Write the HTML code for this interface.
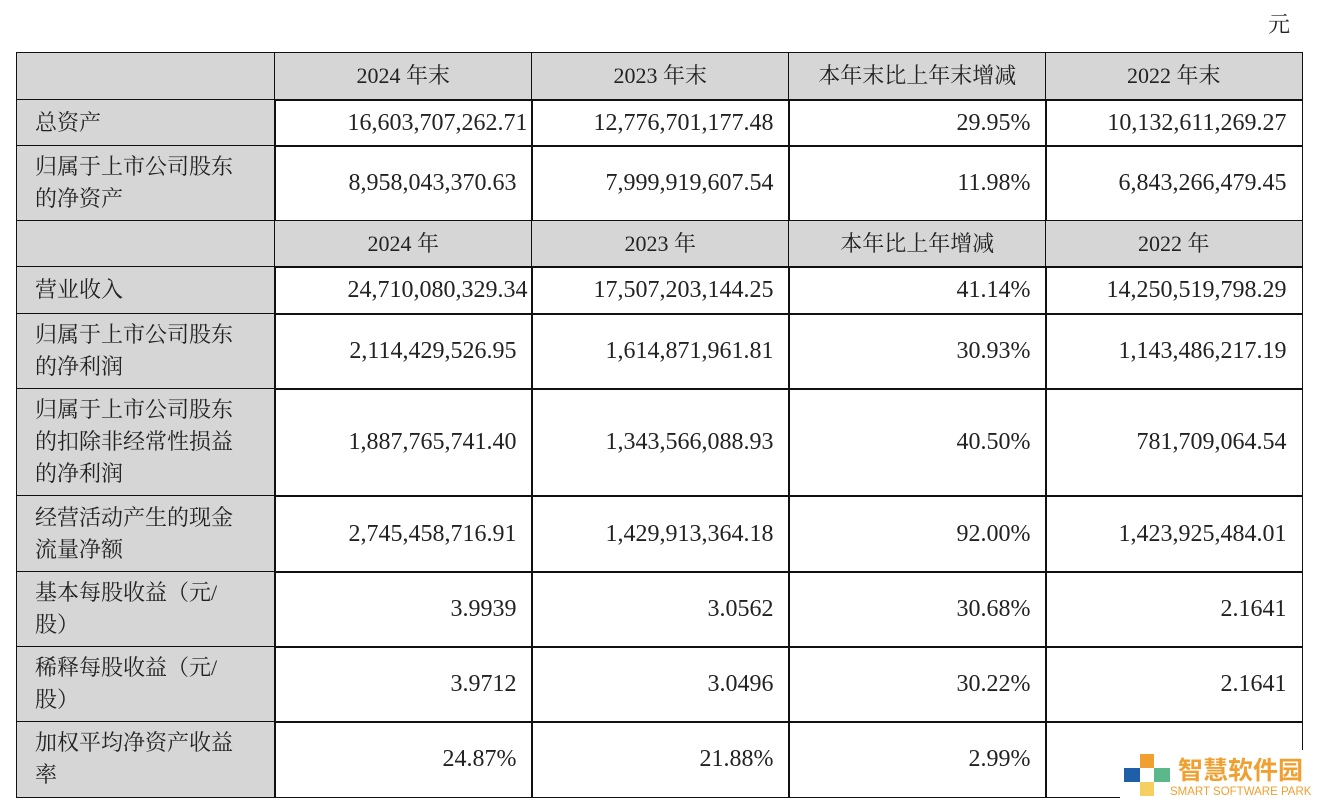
<!DOCTYPE html>
<html><head><meta charset="utf-8">
<style>
body{margin:0;width:1318px;height:804px;background:#fff;overflow:hidden;position:relative;font-family:"Liberation Serif","Noto Serif CJK SC",serif;color:#222;}
.c{position:absolute;box-sizing:border-box;border:1.5px solid #111;display:flex;align-items:center;font-size:22px;line-height:32px;}
.g{background:#d6d6d6;}
.h{justify-content:center;}
.n{justify-content:flex-end;padding-right:15px;font-size:24px;}
.l{padding-left:18px;}
</style></head><body>
<div style="position:absolute;left:1268px;top:8px;font-size:22px;">元</div>
<div id="t"></div>
<div style="position:absolute;left:1120px;top:750px;width:198px;height:54px;background:#fff;">
  <div style="position:absolute;left:20px;top:4px;width:14px;height:14px;background:#f0a030"></div>
  <div style="position:absolute;left:4px;top:18px;width:16px;height:14px;background:#1f5fa8"></div>
  <div style="position:absolute;left:34px;top:18px;width:16px;height:14px;background:#5cb88a"></div>
  <div style="position:absolute;left:20px;top:32px;width:14px;height:14px;background:#f5d060"></div>
  <div style="position:absolute;left:58px;top:4px;font-family:'Noto Sans CJK SC',sans-serif;font-weight:bold;font-size:25px;line-height:30px;color:#f0a030;white-space:nowrap;">智慧软件园</div>
  <div style="position:absolute;left:50px;top:36px;font-family:'Liberation Sans',sans-serif;font-size:11.5px;line-height:12px;color:#f0a030;white-space:nowrap;">SMART SOFTWARE PARK</div>
</div>
<script>
const xs=[16,274,531,788,1045,1301];
const ys=[52,99,145,220,266,313,388,495,571,646,721,796];
const rows=[
 [null,'2024 年末','2023 年末','本年末比上年末增减','2022 年末'],
 ['总资产','16,603,707,262.71','12,776,701,177.48','29.95%','10,132,611,269.27'],
 ['归属于上市公司股东<br>的净资产','8,958,043,370.63','7,999,919,607.54','11.98%','6,843,266,479.45'],
 [null,'2024 年','2023 年','本年比上年增减','2022 年'],
 ['营业收入','24,710,080,329.34','17,507,203,144.25','41.14%','14,250,519,798.29'],
 ['归属于上市公司股东<br>的净利润','2,114,429,526.95','1,614,871,961.81','30.93%','1,143,486,217.19'],
 ['归属于上市公司股东<br>的扣除非经常性损益<br>的净利润','1,887,765,741.40','1,343,566,088.93','40.50%','781,709,064.54'],
 ['经营活动产生的现金<br>流量净额','2,745,458,716.91','1,429,913,364.18','92.00%','1,423,925,484.01'],
 ['基本每股收益（元/<br>股）','3.9939','3.0562','30.68%','2.1641'],
 ['稀释每股收益（元/<br>股）','3.9712','3.0496','30.22%','2.1641'],
 ['加权平均净资产收益<br>率','24.87%','21.88%','2.99%','17.81%']
];
const t=document.getElementById('t');
rows.forEach((r,i)=>{
  const hdr=r[0]===null;
  r.forEach((v,j)=>{
    const d=document.createElement('div');
    
    
    let cls='c';
    if(hdr) cls+=' g h'; else if(j===0) cls+=' g l'; else cls+=' n';
    d.className=cls;
    d.style.left=xs[j]+'px';d.style.top=ys[i]+'px';
    d.style.width=(xs[j+1]-xs[j]+1.5)+'px';d.style.height=(ys[i+1]-ys[i]+1.5)+'px';
    if(!hdr && j===1 && v.length>=17) d.style.paddingRight='4px';
    d.innerHTML=v===null?'':v;
    t.appendChild(d);
  });
});
</script>
</body></html>
